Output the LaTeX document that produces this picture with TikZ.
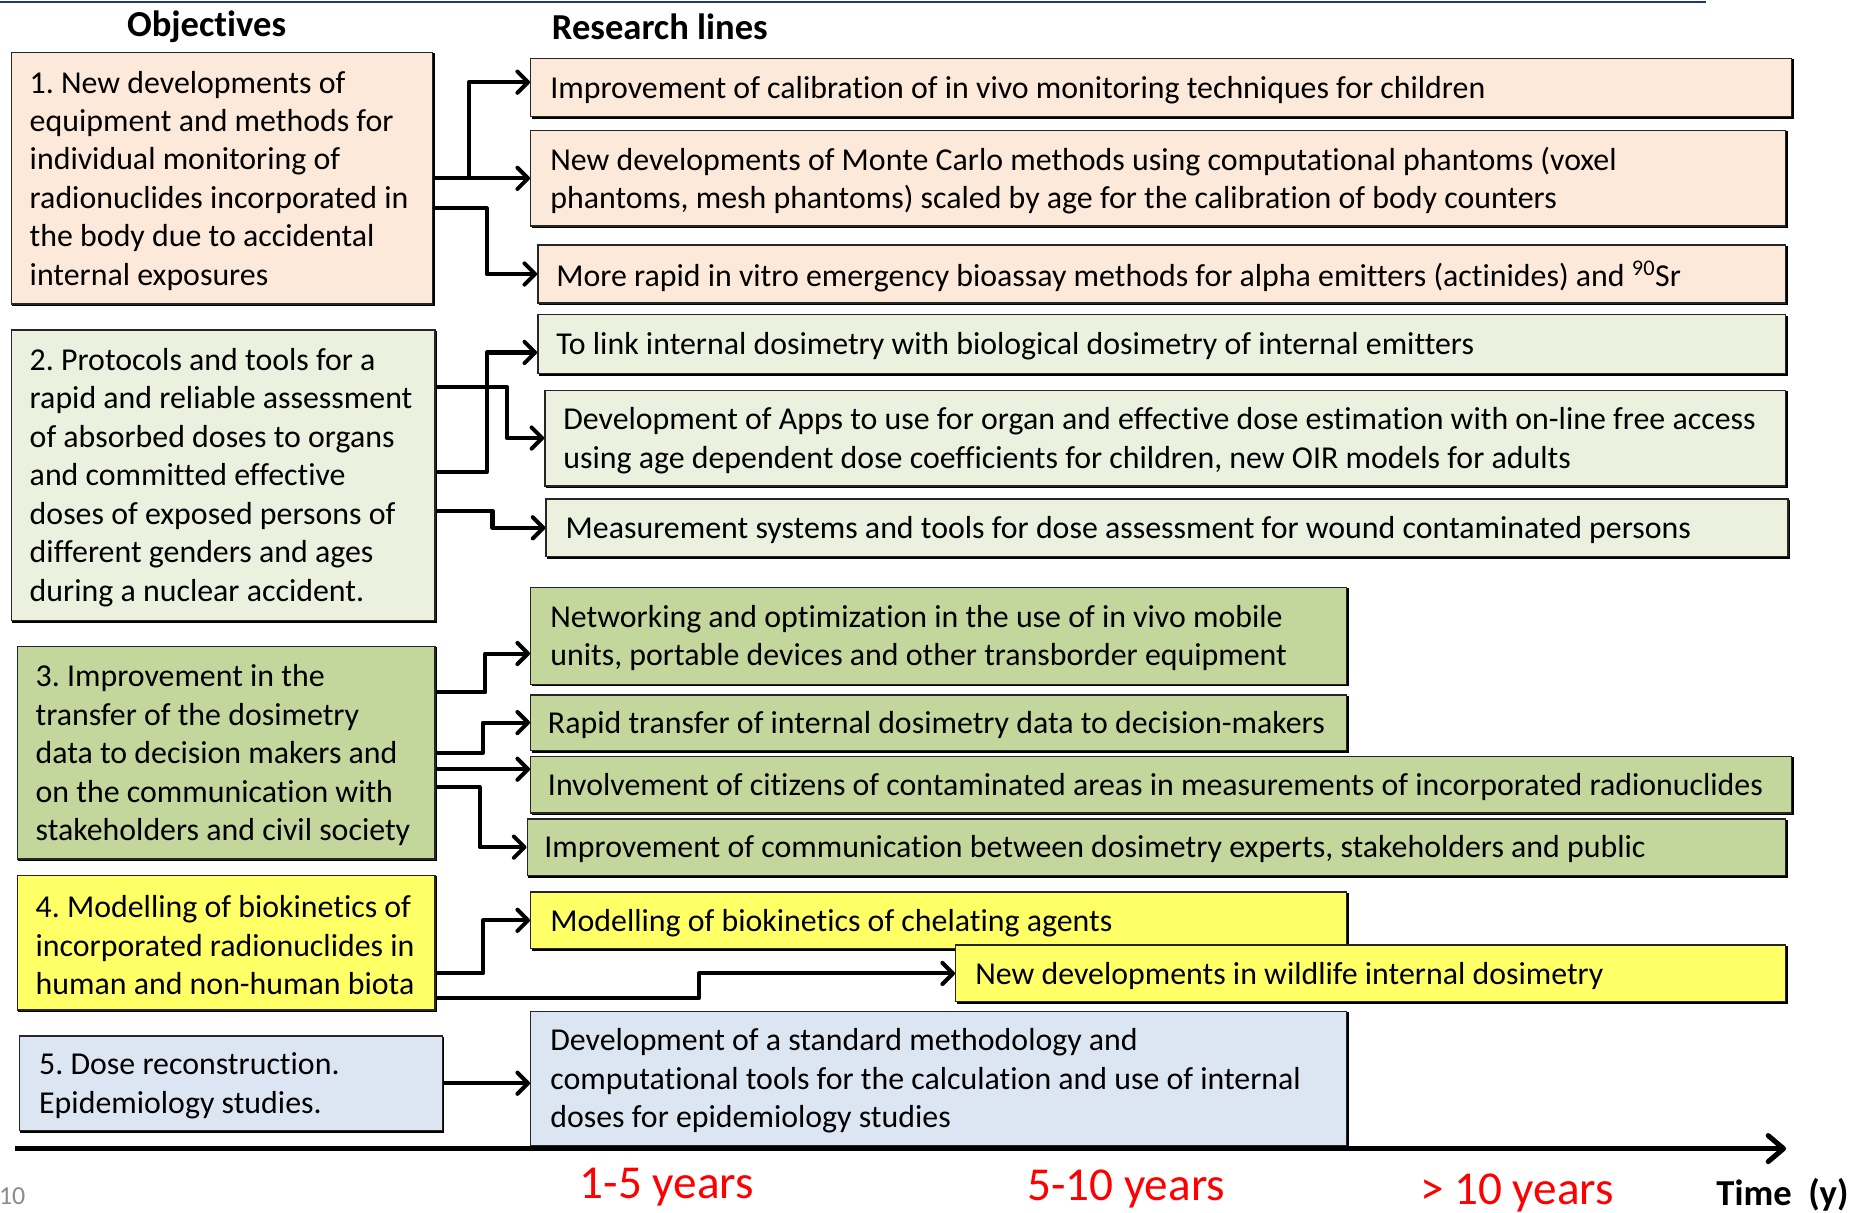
\documentclass[tikz,border=0pt]{standalone}
\usepackage{fontspec}
\setmainfont{Carlito}[Ligatures=NoCommon]
\usetikzlibrary{arrows.meta,calc,shadows}
\definecolor{peach}{HTML}{FDE9D9}
\definecolor{palegreen}{HTML}{EBF1DE}
\definecolor{olivegreen}{HTML}{C3D69B}
\definecolor{lemon}{HTML}{FFFF66}
\definecolor{paleblue}{HTML}{DCE6F2}
\definecolor{navyline}{HTML}{203864}
\definecolor{slidegray}{HTML}{8C8C8C}
\frenchspacing
\begin{document}
\begin{tikzpicture}[x=1pt,y=-1pt,
  box/.style={draw=black!85, line width=1.2pt, anchor=north west, inner sep=0pt,
    general shadow={shadow xshift=1.3pt, shadow yshift=-1.3pt, fill=black, draw=black, line width=1.2pt}},
  txt/.style={anchor=west, align=left, inner sep=0pt, font=\fontsize{27}{32.6}\selectfont},
  head/.style={inner sep=0pt, font=\fontsize{31}{36}\selectfont\bfseries},
  years/.style={anchor=base, inner sep=0pt, text=red, font=\fontsize{40}{46}\selectfont},
  conn/.style={line width=3.4pt, line join=round, -{Straight Barb[length=9pt,width=18pt,line width=3.4pt,round]}},
  axis/.style={line width=4.3pt, -{Straight Barb[length=13pt,width=22pt,line width=4.3pt,round]}}
]
\useasboundingbox (0,0) rectangle (1568,1027);

% frame line along the top edge
\coordinate (topL) at (0,1.5);
\coordinate (topR) at (1445,1.5);
\draw[navyline, line width=2pt] (topL) -- (topR);

% column headings
\node[head] (hobj) at (175,23) {Objectives};
\node[head] (hres) at (559,23) {Research lines};

% objective boxes
\node[box, fill=peach, minimum width=357pt, minimum height=213pt] (o1) at (9,44) {};
\node[txt] (o1t) at ($(o1.west)+(16,2)$) {1. New developments of\\equipment and methods for\\individual monitoring of\\radionuclides incorporated in\\the body due to accidental\\internal exposures};

\node[box, fill=palegreen, minimum width=359pt, minimum height=246pt] (o2) at (9,279) {};
\node[txt] (o2t) at ($(o2.west)+(16,2)$) {2. Protocols and tools for a\\rapid and reliable assessment\\of absorbed doses to organs\\and committed effective\\doses of exposed persons of\\different genders and ages\\during a nuclear accident.};

\node[box, fill=olivegreen, minimum width=354pt, minimum height=180pt] (o3) at (14,547) {};
\node[txt] (o3t) at ($(o3.west)+(16,2)$) {3. Improvement in the\\transfer of the dosimetry\\data to decision makers and\\on the communication with\\stakeholders and civil society};

\node[box, fill=lemon, minimum width=354pt, minimum height=114pt] (o4) at (14,741) {};
\node[txt] (o4t) at ($(o4.west)+(16,2)$) {4. Modelling of biokinetics of\\incorporated radionuclides in\\human and non-human biota};

\node[box, fill=paleblue, minimum width=358pt, minimum height=80pt] (o5) at (16,877) {};
\node[txt] (o5t) at ($(o5.west)+(17,2)$) {5. Dose reconstruction.\\Epidemiology studies.};

% research line boxes
\node[box, fill=peach, minimum width=1068pt, minimum height=49pt] (r1a) at (449,49) {};
\node[txt] (r1at) at ($(r1a.west)+(17,2)$) {Improvement of calibration of in vivo monitoring techniques for children};

\node[box, fill=peach, minimum width=1063pt, minimum height=81pt] (r1b) at (449,110) {};
\node[txt] (r1bt) at ($(r1b.west)+(17,2)$) {New developments of Monte Carlo methods using computational phantoms (voxel\\phantoms, mesh phantoms) scaled by age for the calibration of body counters};

\node[box, fill=peach, minimum width=1057pt, minimum height=49pt] (r1c) at (455,207) {};
\node[txt] (r1ct) at ($(r1c.west)+(16,2)$) {More rapid in vitro emergency bioassay methods for alpha emitters (actinides) and \textsuperscript{90}Sr};

\node[box, fill=palegreen, minimum width=1057pt, minimum height=50pt] (r2a) at (455,266) {};
\node[txt] (r2at) at ($(r2a.west)+(16,2)$) {To link internal dosimetry with biological dosimetry of internal emitters};

\node[box, fill=palegreen, minimum width=1051pt, minimum height=81pt] (r2b) at (461,330) {};
\node[txt] (r2bt) at ($(r2b.west)+(16,2)$) {Development of Apps to use for organ and effective dose estimation with on-line free access\\using age dependent dose coefficients for children, new OIR models for adults};

\node[box, fill=palegreen, minimum width=1052pt, minimum height=49pt] (r2c) at (462,422) {};
\node[txt] (r2ct) at ($(r2c.west)+(17,2)$) {Measurement systems and tools for dose assessment for wound contaminated persons};

\node[box, fill=olivegreen, minimum width=691pt, minimum height=82pt] (r3a) at (449,497) {};
\node[txt] (r3at) at ($(r3a.west)+(17,2)$) {Networking and optimization in the use of in vivo mobile\\units, portable devices and other transborder equipment};

\node[box, fill=olivegreen, minimum width=691pt, minimum height=47pt] (r3b) at (449,588) {};
\node[txt] (r3bt) at ($(r3b.west)+(15,2)$) {Rapid transfer of internal dosimetry data to decision-makers};

\node[box, fill=olivegreen, minimum width=1068pt, minimum height=48pt] (r3c) at (449,640) {};
\node[txt] (r3ct) at ($(r3c.west)+(15,2)$) {Involvement of citizens of contaminated areas in measurements of incorporated radionuclides};

\node[box, fill=olivegreen, minimum width=1066pt, minimum height=48pt] (r3d) at (446,693) {};
\node[txt] (r3dt) at ($(r3d.west)+(15,2)$) {Improvement of communication between dosimetry experts, stakeholders and public};

\node[box, fill=lemon, minimum width=691pt, minimum height=48pt] (r4a) at (449,755) {};
\node[txt] (r4at) at ($(r4a.west)+(17,2)$) {Modelling of biokinetics of chelating agents};

\node[box, fill=lemon, minimum width=703pt, minimum height=48pt] (r4b) at (809,800) {};
\node[txt] (r4bt) at ($(r4b.west)+(17,2)$) {New developments in wildlife internal dosimetry};

\node[box, fill=paleblue, minimum width=691pt, minimum height=114pt] (r5a) at (449,856) {};
\node[txt] (r5at) at ($(r5a.west)+(17,2)$) {Development of a standard methodology and\\computational tools for the calculation and use of internal\\doses for epidemiology studies};

% connectors: objective 1
\draw[conn] (o1.east) -- (o1.east -| r1b.west);
\draw[conn] (o1.east) -- ++(30,0) |- ($(r1a.west)+(0,-4.5)$);
\draw[conn] ($(o1.east)+(0,25.5)$) -- ++(45,0) |- (r1c.west);

% connectors: objective 2
\draw[conn] ($(o2.east)+(0,-2.5)$) -- ++(43,0) |- ($(r2a.west)+(0,7)$);
\draw[conn] ($(o2.east)+(0,-75)$) -- ++(60,0) |- (r2b.west);
\draw[conn] ($(o2.east)+(0,30)$) -- ++(48,0) |- (r2c.west);

% connectors: objective 3
\draw[conn] ($(o3.east)+(0,-51)$) -- ++(42,0) |- ($(r3a.west)+(0,15)$);
\draw[conn] (o3.east) -- ++(40,0) |- (r3b.west);
\draw[conn] ($(o3.east)+(0,14)$) -- ($(r3c.west)+(0,-13)$);
\draw[conn] ($(o3.east)+(0,29)$) -- ++(37,0) |- (r3d.west);

% connectors: objective 4
\draw[conn] ($(o4.east)+(0,26)$) -- ++(40,0) |- (r4a.west);
\draw[conn] ($(o4.east)+(0,47)$) -- ++(223,0) |- (r4b.west);

% connector: objective 5
\draw[conn] (o5.east) -- (o5.east -| r5a.west);

% time axis
\coordinate (ax0) at (13,973);
\coordinate (ax1) at (1513,973);
\draw[axis] (ax0) -- (ax1);

\node[years] (y1) at (565,1015) {1-5 years};
\node[years] (y2) at (954,1017) {5-10 years};
\node[years] (y3) at (1285,1020) {> 10 years};
\node[anchor=base east, inner sep=0pt, font=\fontsize{31}{36}\selectfont\bfseries] (tlab) at (1566,1021) {Time\ \ (y)};
\node[anchor=base west, inner sep=0pt, text=slidegray, font=\fontsize{22}{26}\selectfont] (pnum) at (-1,1020) {10};
\end{tikzpicture}
\end{document}
